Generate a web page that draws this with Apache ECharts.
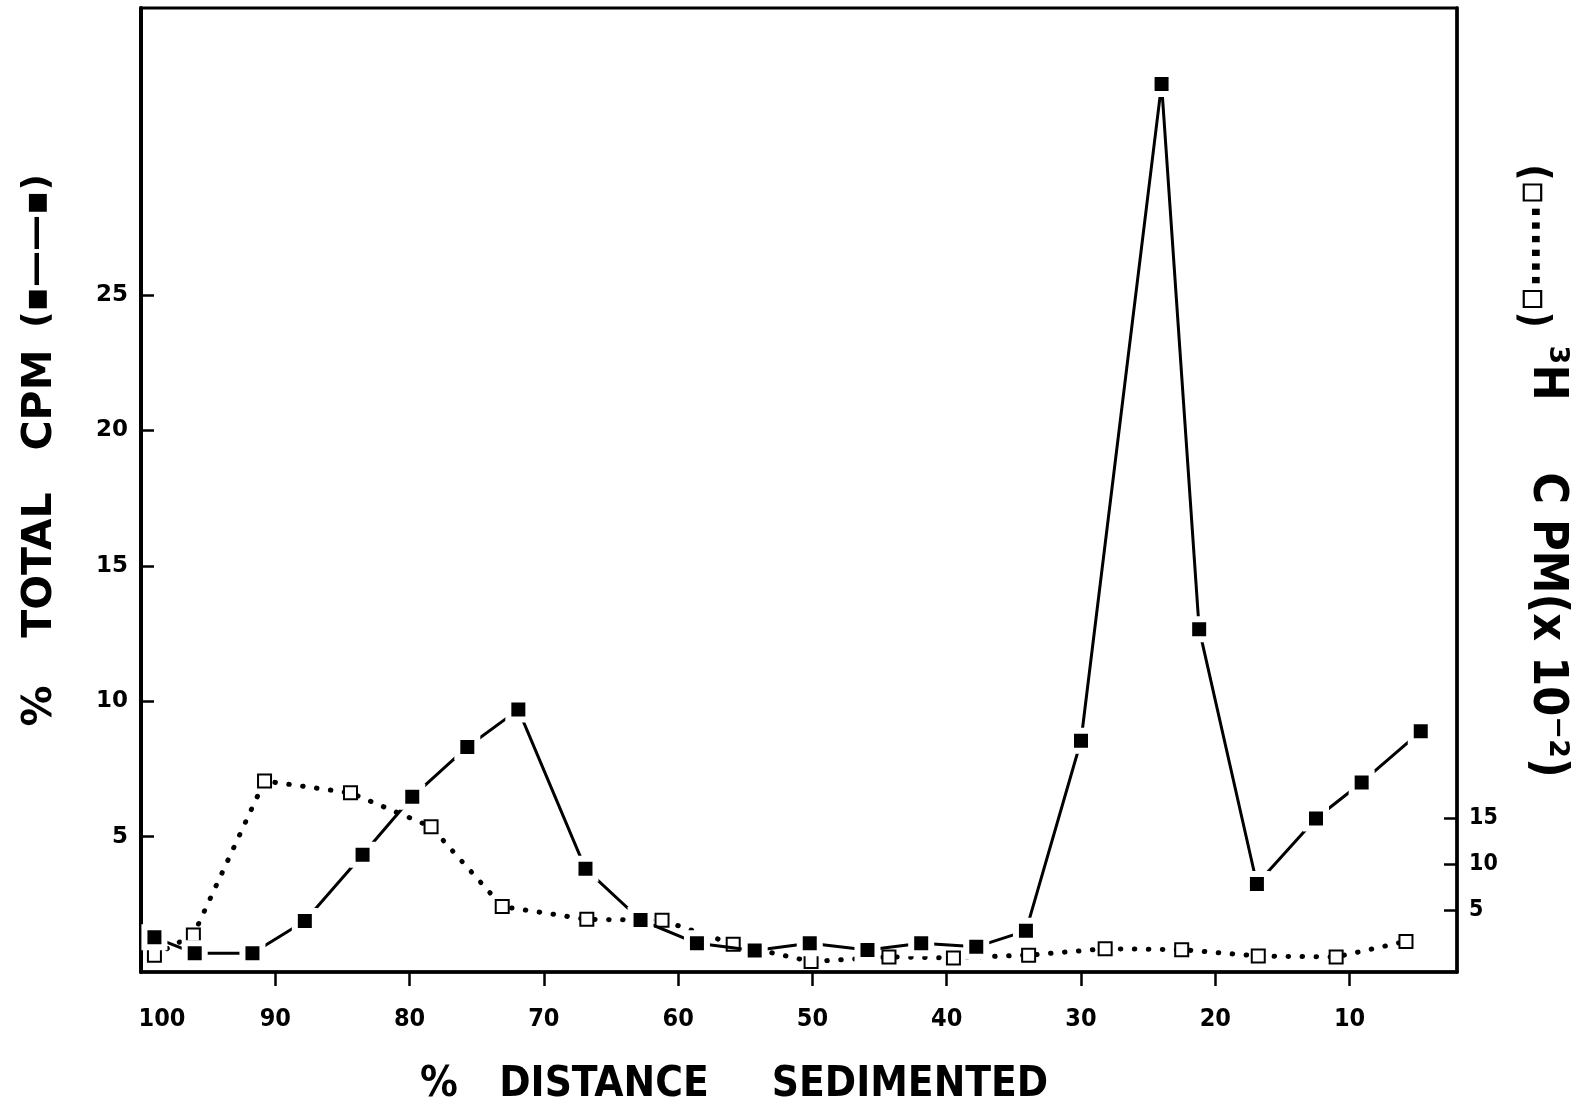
<!DOCTYPE html>
<html><head><meta charset="utf-8">
<script src="https://cdn.jsdelivr.net/npm/echarts@6/dist/echarts.min.js"></script>
<style>html,body{margin:0;padding:0;background:#fff}#c{width:1596px;height:1111px}</style>
</head><body><div id="c"></div>
<script>
// % distance sedimented (x) and % total CPM (filled squares, left axis)
const totalX = [99.0, 96.0, 91.7, 87.8, 83.5, 79.8, 75.7, 71.9, 66.9, 62.8, 58.6, 54.3, 50.2, 45.9, 41.9, 37.8, 34.1, 30.0, 24.0, 21.2, 16.9, 12.5, 9.1, 4.7];
const totalY = [1.28, 0.69, 0.69, 1.88, 4.33, 6.47, 8.31, 9.69, 3.81, 1.92, 1.06, 0.79, 1.06, 0.81, 1.06, 0.93, 1.52, 8.54, 32.79, 12.66, 3.25, 5.67, 7.00, 8.89];
// 3H CPM (x 10^-2) (open squares, right axis)
const tritiumX = [99.0, 96.1, 90.8, 84.4, 78.4, 73.1, 66.8, 61.2, 55.9, 50.1, 44.3, 39.5, 33.9, 28.2, 22.5, 16.8, 11.0, 5.8];
const tritiumY = [0.1, 2.3, 19.1, 17.8, 14.1, 5.4, 4.0, 3.9, 1.3, -0.6, -0.1, -0.2, 0.1, 0.8, 0.7, 0.0, -0.1, 1.6];
// tick labels
const xTickValues = [100, 90, 80, 70, 60, 50, 40, 30, 20, 10];
const leftTickValues = [5, 10, 15, 20, 25];
const rightTickValues = [5, 10, 15];

const COND = '"DejaVu Sans Condensed", "Liberation Sans Narrow", "DejaVu Sans"';
const WIDE = '"DejaVu Sans"';

const chart = echarts.init(document.getElementById('c'), null, {renderer: 'canvas'});

function txt(text, x, y, size, fam, rot) {
  return {
    type: 'text', x: x, y: y, rotation: rot || 0,
    style: {text: text, fill: '#000', fontSize: size, fontWeight: 'bold', fontFamily: fam,
            align: 'center', verticalAlign: 'middle'}
  };
}

chart.setOption({
  animation: false,
  backgroundColor: '#fff',
  grid: {left: 141, right: 139, top: 8, bottom: 139, show: true, borderColor: '#000', borderWidth: 3, backgroundColor: 'transparent'},
  xAxis: {
    type: 'value', inverse: true, min: 2, max: 100,
    axisLine: {show: true, onZero: false, lineStyle: {color: '#000', width: 3.5}},
    axisTick: {show: true, inside: false, length: 14, customValues: xTickValues.slice(1), lineStyle: {color: '#000', width: 2.5}},
    axisLabel: {
      customValues: xTickValues, margin: 35, color: '#000', fontSize: 25, fontWeight: 'bold', fontFamily: COND,
      formatter: v => v === 100 ? '{a|100}' : String(v),
      rich: {a: {padding: [0, 0, 0, 42], fontSize: 25, fontWeight: 'bold', fontFamily: COND, color: '#000'}}
    },
    splitLine: {show: false}
  },
  yAxis: [
    {
      type: 'value', min: 0, max: 35.6, position: 'left',
      axisLine: {show: true, onZero: false, lineStyle: {color: '#000', width: 4}},
      axisTick: {show: true, inside: true, length: 13, customValues: leftTickValues, lineStyle: {color: '#000', width: 2.5}},
      axisLabel: {customValues: leftTickValues, margin: 13, color: '#000', fontSize: 23, fontWeight: 'bold', fontFamily: WIDE},
      splitLine: {show: false}
    },
    {
      type: 'value', min: -1.74, max: 103.4, position: 'right',
      axisLine: {show: true, onZero: false, lineStyle: {color: '#000', width: 3.5}},
      axisTick: {show: true, inside: true, length: 13, customValues: rightTickValues, lineStyle: {color: '#000', width: 2.5}},
      axisLabel: {customValues: rightTickValues, margin: 12, color: '#000', fontSize: 23, fontWeight: 'bold', fontFamily: COND},
      splitLine: {show: false}
    }
  ],
  series: [
    {
      name: '3H CPM', type: 'line', yAxisIndex: 1,
      data: tritiumX.map((x, i) => [x, tritiumY[i]]),
      symbol: 'rect', symbolSize: 13,
      itemStyle: {color: '#fff', borderColor: '#000', borderWidth: 2},
      lineStyle: {color: '#000', width: 5, type: [0.5, 13.5], cap: 'round'},
      z: 2
    },
    {
      name: '% total CPM', type: 'line', yAxisIndex: 0,
      data: totalX.map((x, i) => [x, totalY[i]]),
      symbol: 'rect', symbolSize: 20,
      itemStyle: {color: '#000', borderColor: '#fff', borderWidth: 6},
      lineStyle: {color: '#000', width: 3},
      z: 3
    }
  ],
  graphic: [
    // x axis title
    txt('%', 439, 1085, 42, COND),
    txt('DISTANCE', 604, 1085, 42, COND),
    txt('SEDIMENTED', 910, 1085, 42, COND),
    // left axis title (reads bottom to top)
    txt('%', 40, 706, 41, WIDE, Math.PI / 2),
    txt('TOTAL', 40, 565, 41, WIDE, Math.PI / 2),
    txt('CPM', 40, 400, 41, WIDE, Math.PI / 2),
    txt('(\u25AA\u2014\u2014\u25AA)', 38, 251, 36, WIDE, Math.PI / 2),
    // right axis title (reads top to bottom)
    txt('(\u25AB\u00B7\u00B7\u00B7\u00B7\u00B7\u00B7\u25AB)', 1532, 246, 40, COND, -Math.PI / 2),
    txt('\u00B3H', 1546, 373, 48, COND, -Math.PI / 2),
    txt('C PM(x 10\u207B\u00B2)', 1546, 625, 48, COND, -Math.PI / 2)
  ]
});
</script></body></html>
